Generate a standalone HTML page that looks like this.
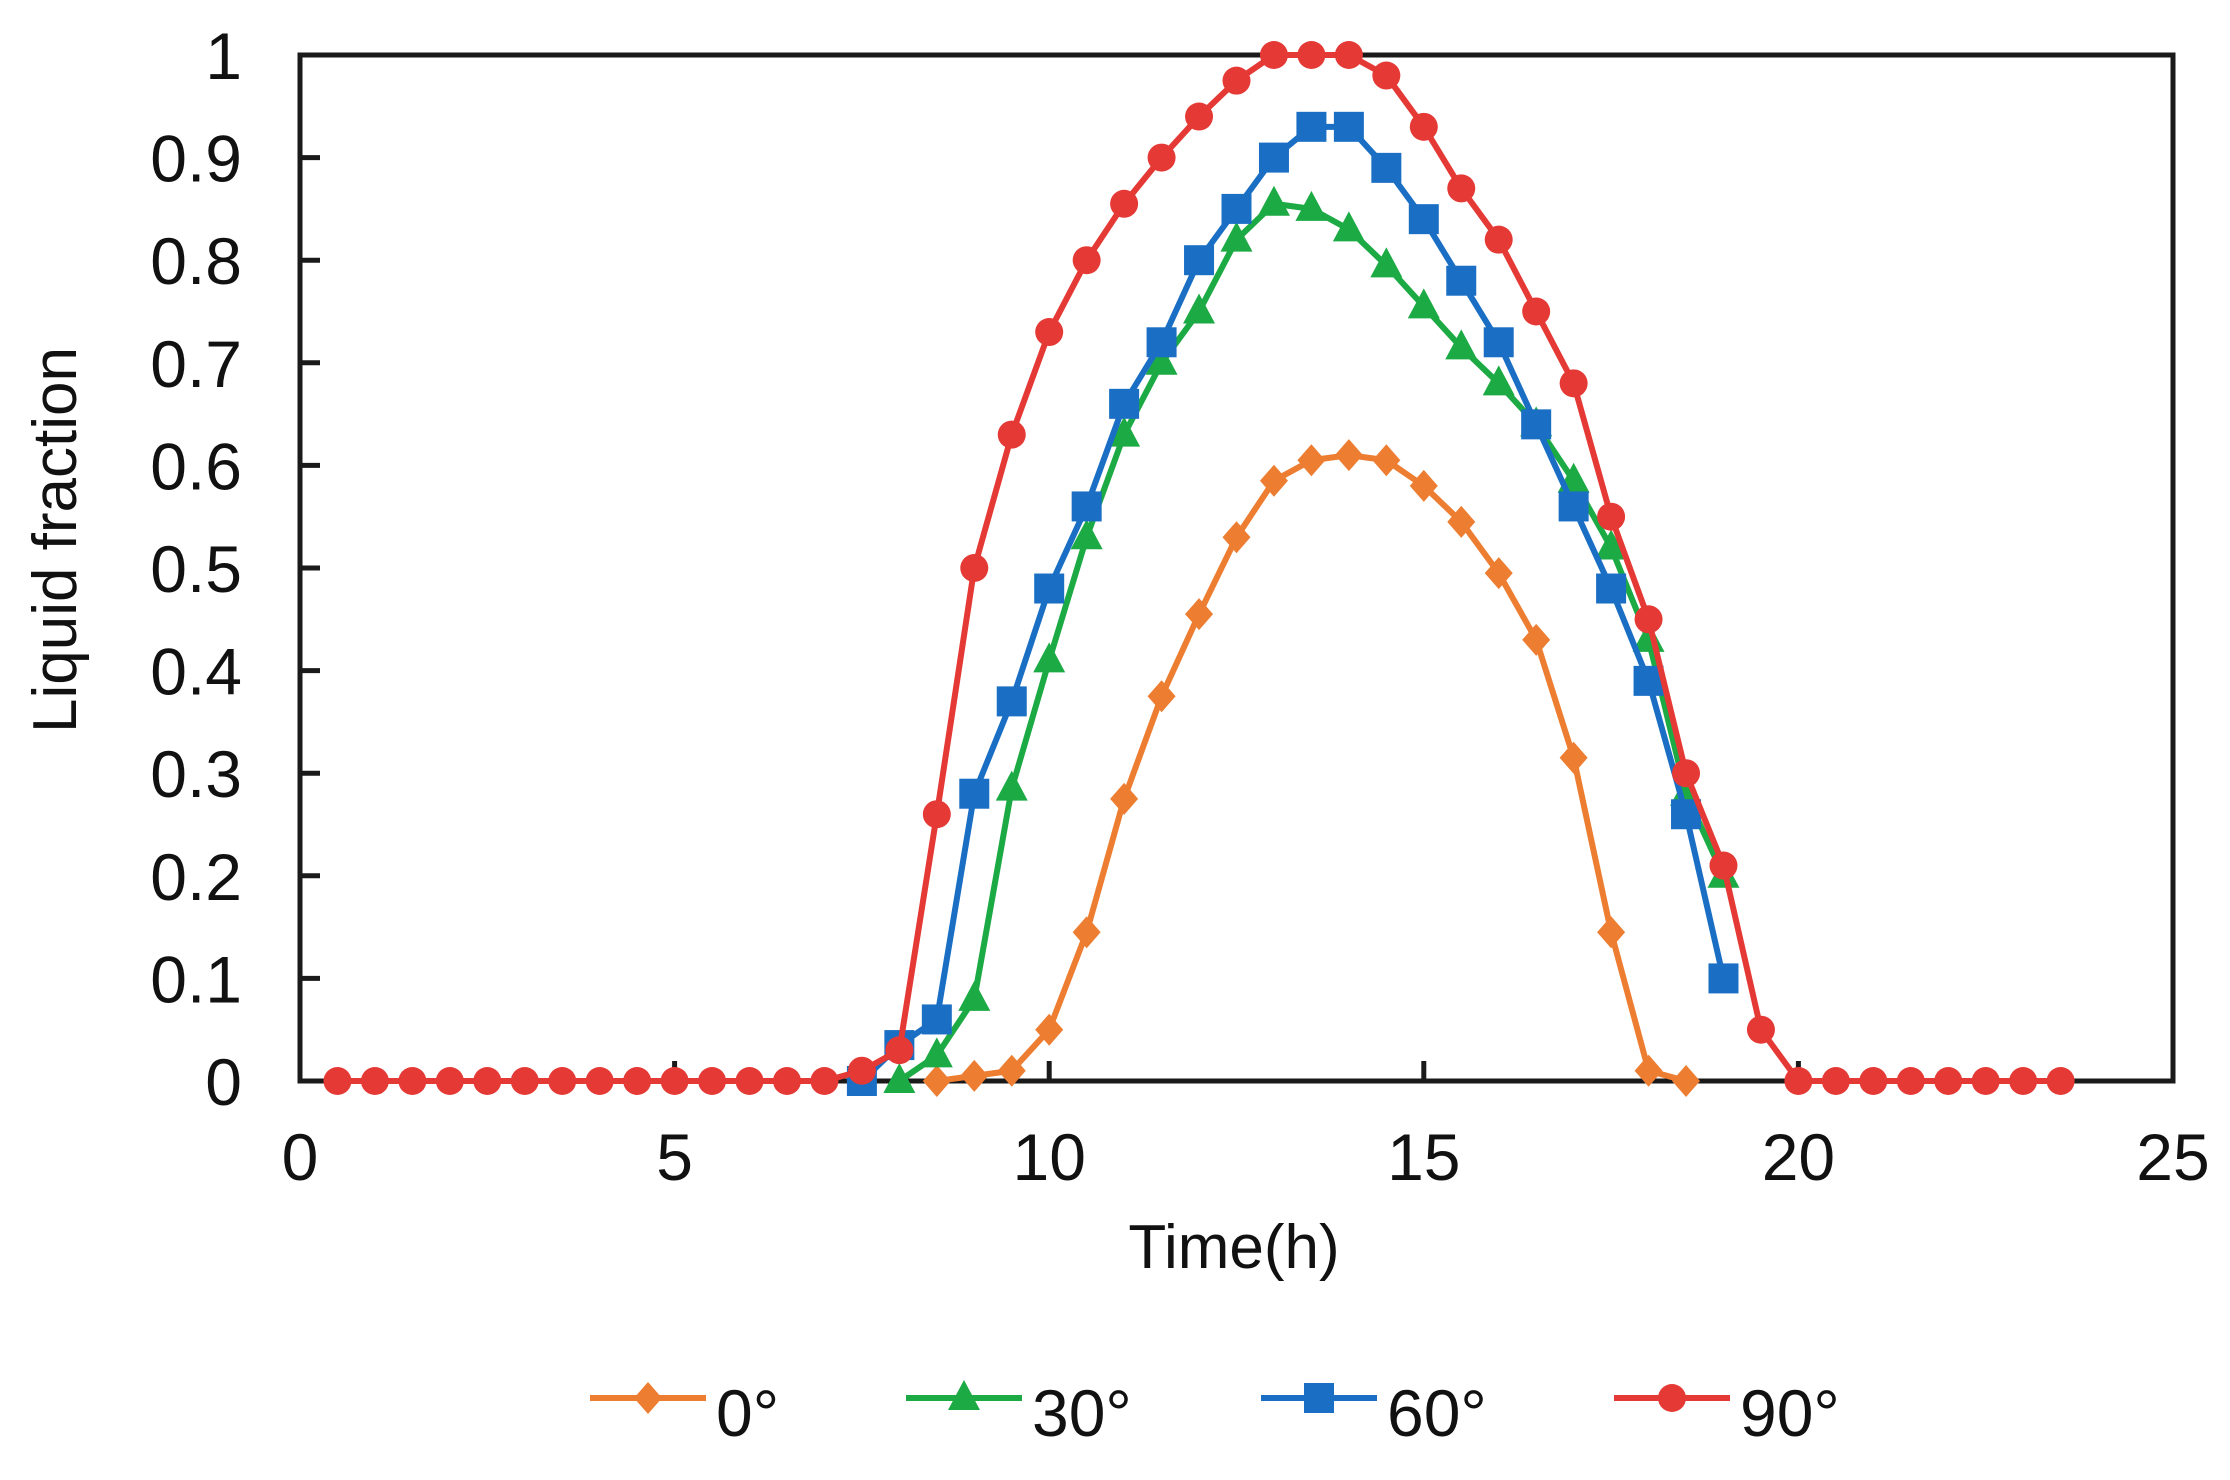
<!DOCTYPE html>
<html><head><meta charset="utf-8"><style>
body{margin:0;background:#fff}
svg{display:block;font-family:"Liberation Sans",Arial,sans-serif}
</style></head><body>
<svg id="chart" width="2230" height="1480" viewBox="0 0 2230 1480" xmlns="http://www.w3.org/2000/svg">
<rect width="2230" height="1480" fill="#fff"/>
<g id="axes"></g>
<g id="series"></g>
<g id="legend"></g>
</svg>
<script>
const xTicks=[0,5,10,15,20,25];
const yTicks=[0,0.1,0.2,0.3,0.4,0.5,0.6,0.7,0.8,0.9,1];
const yTickLabels=["0","0.1","0.2","0.3","0.4","0.5","0.6","0.7","0.8","0.9","1"];
const seriesNames=["0°","30°","60°","90°"];
const x0=[8.5,9,9.5,10,10.5,11,11.5,12,12.5,13,13.5,14,14.5,15,15.5,16,16.5,17,17.5,18,18.5];
const y0=[0,0.005,0.01,0.05,0.145,0.275,0.375,0.455,0.53,0.585,0.605,0.61,0.605,0.58,0.545,0.495,0.43,0.315,0.145,0.01,0];
const x30=[8,8.5,9,9.5,10,10.5,11,11.5,12,12.5,13,13.5,14,14.5,15,15.5,16,16.5,17,17.5,18,18.5,19];
const y30=[0,0.025,0.08,0.285,0.41,0.53,0.63,0.7,0.75,0.82,0.855,0.85,0.83,0.795,0.755,0.715,0.68,0.64,0.585,0.52,0.43,0.28,0.2];
const x60=[7.5,8,8.5,9,9.5,10,10.5,11,11.5,12,12.5,13,13.5,14,14.5,15,15.5,16,16.5,17,17.5,18,18.5,19];
const y60=[0,0.035,0.06,0.28,0.37,0.48,0.56,0.66,0.72,0.8,0.85,0.9,0.93,0.93,0.89,0.84,0.78,0.72,0.64,0.56,0.48,0.39,0.26,0.1];
const x90=[0.5,1,1.5,2,2.5,3,3.5,4,4.5,5,5.5,6,6.5,7,7.5,8,8.5,9,9.5,10,10.5,11,11.5,12,12.5,13,13.5,14,14.5,15,15.5,16,16.5,17,17.5,18,18.5,19,19.5,20,20.5,21,21.5,22,22.5,23,23.5];
const y90=[0,0,0,0,0,0,0,0,0,0,0,0,0,0,0.01,0.03,0.26,0.5,0.63,0.73,0.8,0.855,0.9,0.94,0.975,1,1,1,0.98,0.93,0.87,0.82,0.75,0.68,0.55,0.45,0.3,0.21,0.05,0,0,0,0,0,0,0,0];

const L=300,R=2173,T=55,B=1081;
const sx=v=>L+(v-0)/25*(R-L);
const sy=v=>B-(v-0)/1*(B-T);
const NS="http://www.w3.org/2000/svg";
function mk(tag,attrs,parent){const e=document.createElementNS(NS,tag);for(const k in attrs)e.setAttribute(k,attrs[k]);parent.appendChild(e);return e;}
const axes=document.getElementById('axes');
const frame=mk('rect',{x:L,y:T,width:R-L,height:B-T,fill:'none',stroke:'#1a1a1a','stroke-width':5},axes);


yTicks.forEach((v,i)=>{
  const t=mk('line',{x1:L,x2:L+20,y1:sy(v),y2:sy(v),stroke:'#1a1a1a','stroke-width':5},axes);
  
  
  const tx=mk('text',{x:242,y:sy(v)+24,'text-anchor':'end','font-size':66,fill:'#111'},axes);
  tx.textContent=yTickLabels[i];
  
  
});
xTicks.forEach(v=>{
  const t=mk('line',{x1:sx(v),x2:sx(v),y1:B,y2:B-20,stroke:'#1a1a1a','stroke-width':5},axes);
  
  
  const tx=mk('text',{x:sx(v),y:1180,'text-anchor':'middle','font-size':66,fill:'#111'},axes);
  tx.textContent=String(v);
  
  
});
const xt=mk('text',{x:1234,y:1268,'text-anchor':'middle','font-size':62,fill:'#111'},axes);
xt.textContent='Time(h)';


const yt=mk('text',{x:0,y:0,'text-anchor':'middle','font-size':62,fill:'#111',transform:'translate(76,540) rotate(-90)'},axes);
yt.textContent='Liquid fraction';



function marker(shape,cx,cy,color,parent){
  let m;
  if(shape==='diamond') m=mk('polygon',{points:`${cx},${cy-16} ${cx+14},${cy} ${cx},${cy+16} ${cx-14},${cy}`,fill:color},parent);
  else if(shape==='triangle') m=mk('polygon',{points:`${cx},${cy-18} ${cx+16},${cy+12} ${cx-16},${cy+12}`,fill:color},parent);
  else if(shape==='square') m=mk('rect',{x:cx-15,y:cy-15,width:30,height:30,fill:color},parent);
  else m=mk('circle',{cx:cx,cy:cy,r:14,fill:color},parent);
  return m;
}
const ser=[
 {xs:x0,ys:y0,c:'#ED7D31',s:'diamond'},
 {xs:x30,ys:y30,c:'#1CAA44',s:'triangle'},
 {xs:x60,ys:y60,c:'#1A6FC4',s:'square'},
 {xs:x90,ys:y90,c:'#E53935',s:'circle'}];
const sg=document.getElementById('series');
ser.forEach((s,k)=>{
  const g=mk('g',{},sg);
  
  
  const pts=s.xs.map((x,i)=>sx(x)+','+sy(s.ys[i])).join(' ');
  const pl=mk('polyline',{points:pts,fill:'none',stroke:s.c,'stroke-width':6,'stroke-linejoin':'round'},g);
  
  
  s.xs.forEach((x,i)=>{
    const m=marker(s.s,sx(x),sy(s.ys[i]),s.c,g);
    
    
  });
});
const lg=document.getElementById('legend');
const lx=[590,906,1261,1614];
ser.forEach((s,k)=>{
  const g=mk('g',{},lg);
  
  
  mk('line',{x1:lx[k],x2:lx[k]+116,y1:1398,y2:1398,stroke:s.c,'stroke-width':6},g);
  marker(s.s,lx[k]+58,1398,s.c,g);
  const t=mk('text',{x:lx[k]+126,y:1436,'font-size':66,fill:'#111'},g);
  t.textContent=seriesNames[k];
  
  
});
</script>
</body></html>
